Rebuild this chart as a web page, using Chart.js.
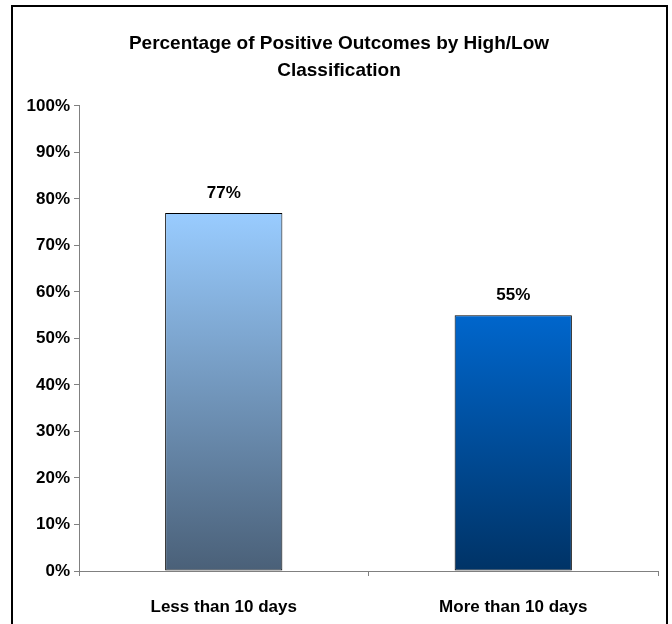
<!DOCTYPE html>
<html>
<head>
<meta charset="utf-8">
<title>Percentage of Positive Outcomes</title>
<script src="https://cdn.jsdelivr.net/npm/chart.js@4"></script>
<style>
  body { margin: 0; background: #fff; }
  canvas { display: block; }
</style>
</head>
<body>
<canvas id="outcomeChart" width="672" height="624"></canvas>
<script>
// Chart data
const categories = ['Less than 10 days', 'More than 10 days'];
const positivePct = [77, 55];
const yTicks = [0, 10, 20, 30, 40, 50, 60, 70, 80, 90, 100];

// top / bottom colours of each bar's gradient
const topColors = ['#99CCFF', '#0066CC'];
const bottomColors = ['#4A6078', '#003366'];

const FONT = '"Liberation Sans", Arial, sans-serif';

document.addEventListener("DOMContentLoaded", function() {

// white background + outer frame
const framePlugin = {
  id: 'frame',
  beforeDraw(chart) {
    const c = chart.ctx;
    c.save();
    c.fillStyle = '#fff';
    c.fillRect(0, 0, chart.width, chart.height);
    c.strokeStyle = '#000';
    c.lineWidth = 2;
    c.strokeRect(12, 6, 655, 640);
    c.restore();
  }
};

// value labels above bars
const valueLabels = {
  id: 'valueLabels',
  afterDatasetsDraw(chart) {
    const c = chart.ctx;
    const meta = chart.getDatasetMeta(0);
    c.save();
    c.fillStyle = '#000';
    c.font = 'bold 17px ' + FONT;
    c.textAlign = 'center';
    c.textBaseline = 'alphabetic';
    meta.data.forEach(function(bar, i) {
      c.fillText(positivePct[i] + '%', bar.x, bar.y - 15);
    });
    c.restore();
  }
};

function barGradient(context) {
  const chart = context.chart;
  const i = context.dataIndex;
  if (!chart.chartArea || i === undefined) return topColors[i || 0];
  const yScale = chart.scales.y;
  const top = yScale.getPixelForValue(positivePct[i]);
  const bottom = yScale.getPixelForValue(0);
  const g = chart.ctx.createLinearGradient(0, top, 0, bottom);
  g.addColorStop(0, topColors[i]);
  g.addColorStop(1, bottomColors[i]);
  return g;
}

const ctxBar = document.getElementById('outcomeChart');

new Chart(ctxBar, {
  type: 'bar',
  data: {
    labels: categories,
    datasets: [{
      label: 'Positive outcomes',
      data: positivePct,
      backgroundColor: barGradient,
      borderColor: '#000',
      borderWidth: 1,
      borderSkipped: false,
      barPercentage: 0.405,
      categoryPercentage: 1
    }]
  },
  options: {
    responsive: false,
    animation: false,
    // left padding keeps the title centred on the frame
    layout: { padding: { left: 20, right: 14, top: 0, bottom: 0 } },
    plugins: {
      legend: { display: false },
      tooltip: { enabled: false },
      title: {
        display: true,
        text: ['Percentage of Positive Outcomes by High/Low', 'Classification'],
        color: '#000',
        font: { family: FONT, size: 19, weight: 'bold', lineHeight: 1.42 },
        padding: { top: 30, bottom: 22 }
      }
    },
    scales: {
      x: {
        grid: { drawOnChartArea: false, tickLength: 5, color: '#808080' },
        border: { color: '#808080' },
        ticks: {
          color: '#000',
          padding: 21,
          font: { family: FONT, size: 17, weight: 'bold' }
        },
        afterFit(scale) { scale.height = 53; }
      },
      y: {
        min: 0,
        max: 100,
        afterBuildTicks(scale) {
          scale.ticks = yTicks.map(v => ({ value: v }));
        },
        grid: { drawOnChartArea: false, tickLength: 5, color: '#808080' },
        border: { color: '#808080' },
        ticks: {
          color: '#000',
          padding: 4,
          font: { family: FONT, size: 17, weight: 'bold' },
          callback: v => v + '%'
        },
        afterFit(scale) { scale.width = 59; }
      }
    }
  },
  plugins: [framePlugin, valueLabels]
});

});
</script>
</body>
</html>
